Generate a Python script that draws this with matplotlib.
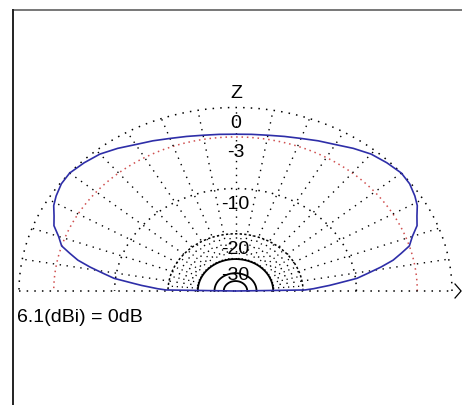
import matplotlib
matplotlib.use("Agg")
import matplotlib.pyplot as plt
import numpy as np
from matplotlib.lines import Line2D

plt.rcParams['font.family'] = ['Liberation Sans', 'DejaVu Sans']

# elevation angle (deg, 0 = right horizon, 180 = left horizon) and gain in dB (0 dB = 6.1 dBi)
elev = [0, 1, 2, 3, 4, 5, 7, 9, 11, 13, 15, 17, 20, 23, 26, 29, 32, 36, 40, 45,
        50, 55, 60, 65, 70, 75, 80, 85, 90,
        95, 100, 105, 110, 115, 120, 125, 130, 135, 140, 144, 148, 151, 154, 157,
        160, 163, 165, 167, 169, 171, 173, 175, 176, 177, 178, 179, 180]
gain_db = [-99, -19.5, -17.5, -16.0, -14.3, -12.9, -9.8, -8.2, -6.5, -5.0, -4.0, -3.0, -2.4, -1.6, -1.2, -0.7, -0.4, -0.1, 0.0, -0.2,
           -0.45, -0.9, -1.4, -1.75, -2.1, -2.35, -2.55, -2.65, -2.7,
           -2.65, -2.55, -2.35, -2.1, -1.75, -1.4, -0.9, -0.45, -0.2, 0.0, -0.1, -0.4, -0.7, -1.2, -1.6,
           -2.4, -3.0, -4.0, -5.0, -6.5, -8.2, -9.8, -12.9, -14.3, -16.0, -17.5, -19.5, -99]

ring_db = [0, -3, -10, -20, -30, -40, -50]
ring_labels = ["0", "-3", "-10", "-20", "-30"]
spoke_deg = list(range(10, 180, 10))
fine_spoke_deg = list(range(5, 180, 10))
max_gain_text = "6.1(dBi) = 0dB"


def arrl(db):
    # ARRL log scale: radius shrinks by 0.89 every 2 dB
    return 0.89 ** (-np.asarray(db, dtype=float) / 2.0)


W, H = 462, 405
cx, cy, rx, ry = 235.5, 291.0, 216.5, 183.5

fig = plt.figure(figsize=(W / 100, H / 100), dpi=100)
ax = fig.add_axes([0, 0, 1, 1])
ax.set_xlim(-cx / rx, (W - cx) / rx)
ax.set_ylim((cy - H) / ry, cy / ry)
ax.axis('off')

t = np.linspace(0, np.pi, 400)

# rings
styles = {
    0: dict(color='black', lw=1.1, ls=(0, (1, 4))),
    -3: dict(color='#d05050', lw=1.1, ls=(0, (1, 2.5))),
    -10: dict(color='black', lw=1.1, ls=(0, (1, 3.5))),
    -20: dict(color='black', lw=1.1, ls=(0, (1.5, 1.5))),
    -30: dict(color='black', lw=1.3, ls='-'),
    -40: dict(color='black', lw=1.3, ls='-'),
    -50: dict(color='black', lw=1.3, ls='-'),
}
for db in ring_db:
    r = arrl(db)
    ax.plot(r * np.cos(t), r * np.sin(t), **styles[db])

# spokes
r30, r20 = arrl(-30), arrl(-20)
for a in spoke_deg:
    c, s = np.cos(np.radians(a)), np.sin(np.radians(a))
    ax.plot([r30 * c, c], [r30 * s, s], color='black', lw=1.0, ls=(0, (1, 4)))
for a in fine_spoke_deg:
    c, s = np.cos(np.radians(a)), np.sin(np.radians(a))
    ax.plot([r30 * c, r20 * c], [r30 * s, r20 * s], color='black', lw=0.9, ls=(0, (1, 3)))

# baseline (horizon) and arrow
ax.plot([-1, 1], [0, 0], color='black', lw=1.1, ls=(0, (1, 4)))
ax.plot([1.014, 1.042, 1.014], [0.038, 0, -0.038], color='black', lw=0.9)

# pattern
th = np.radians(elev)
rp = arrl(gain_db)
ax.plot(rp * np.cos(th), rp * np.sin(th), color='#2e2ea8', lw=1.2)

# labels
ax.text(0.005, (cy - 93) / ry, "Z", ha='center', va='center', fontsize=14)
for db, lab in zip(ring_db, ring_labels):
    ax.annotate(lab, (0, arrl(db)), xytext=(0, -11.5), textcoords='offset points',
                ha='center', va='center', fontsize=14)

fig.text(17 / W, 1 - 317 / H, max_gain_text, ha='left', va='center', fontsize=14)

# frame
fig.add_artist(Line2D([13 / W, 1], [1 - 10 / H, 1 - 10 / H], color='#777777', lw=1.4))
fig.add_artist(Line2D([13 / W, 13 / W], [0, 1 - 10 / H], color='#222222', lw=1.4))

fig.savefig("out.png", dpi=100)
